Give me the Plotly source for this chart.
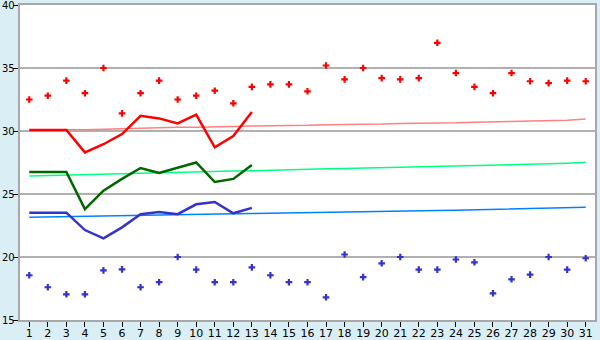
import plotly.graph_objects as go

days = list(range(1, 32))
max_obs = [32.5, 32.8, 34.0, 33.0, 35.0, 31.4, 33.0, 34.0, 32.5, 32.8,
           33.2, 32.2, 33.5, 33.7, 33.7, 33.15, 35.2, 34.1, 35.0, 34.2,
           34.1, 34.2, 37.0, 34.6, 33.5, 33.0, 34.6, 33.95, 33.8, 34.0, 33.95]
min_obs = [18.55, 17.6, 17.04, 17.04, 18.94, 19.02, 17.6, 18.0, 20.0, 19.0,
           18.0, 18.0, 19.18, 18.55, 18.0, 18.0, 16.8, 20.2, 18.4, 19.5,
           20.0, 19.0, 19.0, 19.8, 19.58, 17.12, 18.23, 18.6, 20.0, 19.0, 19.9]
line_days = list(range(1, 14))
max_line = [30.08, 30.08, 30.08, 28.3, 28.95, 29.76, 31.2, 31.0, 30.6, 31.3, 28.7, 29.6, 31.5]
mean_line = [26.75, 26.75, 26.75, 23.8, 25.26, 26.2, 27.06, 26.67, 27.06, 27.5, 25.95, 26.2, 27.3]
min_line = [23.52, 23.52, 23.52, 22.14, 21.48, 22.35, 23.4, 23.57, 23.4, 24.18, 24.37, 23.47, 23.9]
norm_max = [30.05, 30.1, 30.1, 30.1, 30.15, 30.2, 30.2, 30.25, 30.3, 30.3,
            30.3, 30.35, 30.4, 30.4, 30.4, 30.45, 30.5, 30.5, 30.5, 30.55,
            30.6, 30.6, 30.6, 30.65, 30.7, 30.7, 30.75, 30.8, 30.8, 30.85, 30.95]
norm_mean = [26.43, 26.47, 26.5, 26.55, 26.6, 26.62, 26.65, 26.7, 26.72, 26.75,
             26.8, 26.82, 26.85, 26.9, 26.92, 26.95, 27.0, 27.02, 27.05, 27.1,
             27.12, 27.15, 27.2, 27.22, 27.25, 27.3, 27.32, 27.35, 27.4, 27.45, 27.52]
norm_min = [23.15, 23.18, 23.2, 23.22, 23.25, 23.28, 23.3, 23.32, 23.35, 23.38,
            23.4, 23.43, 23.45, 23.48, 23.5, 23.52, 23.55, 23.58, 23.6, 23.62,
            23.65, 23.68, 23.7, 23.72, 23.75, 23.78, 23.8, 23.83, 23.86, 23.9, 23.94]
y_ticks = [15, 20, 25, 30, 35, 40]

fig = go.Figure()
fig.add_trace(go.Scatter(x=days, y=norm_max, mode="lines", line=dict(color="#FF8080", width=1.5)))
fig.add_trace(go.Scatter(x=days, y=norm_mean, mode="lines", line=dict(color="#00FF80", width=1.5)))
fig.add_trace(go.Scatter(x=days, y=norm_min, mode="lines", line=dict(color="#0080FF", width=1.5)))
fig.add_trace(go.Scatter(x=line_days, y=max_line, mode="lines", line=dict(color="#FF0000", width=2.5)))
fig.add_trace(go.Scatter(x=line_days, y=mean_line, mode="lines", line=dict(color="#006600", width=2.5)))
fig.add_trace(go.Scatter(x=line_days, y=min_line, mode="lines", line=dict(color="#3333CC", width=2.5)))
fig.add_trace(go.Scatter(x=days, y=max_obs, mode="markers",
                         marker=dict(symbol="cross", size=5.5, color="#FF0000")))
fig.add_trace(go.Scatter(x=days, y=min_obs, mode="markers",
                         marker=dict(symbol="cross", size=5.5, color="#3333CC")))

plot_w = 600 - 20 - 5
for v in y_ticks:
    fig.add_annotation(x=-5 / plot_w, xref="paper", y=v, yref="y", text=str(v),
                       showarrow=False, xanchor="right", yanchor="middle",
                       borderpad=0, borderwidth=0,
                       font=dict(family="DejaVu Sans", size=10, color="#000000"))

fig.update_layout(
    width=600, height=340,
    margin=dict(l=20, r=5, t=5, b=20),
    paper_bgcolor="#D9EFF5",
    plot_bgcolor="#FFFFFF",
    showlegend=False,
    font=dict(family="DejaVu Sans", size=11, color="#000000"),
)
fig.update_xaxes(range=[0.5, 31.5], tickvals=days, ticktext=[str(d) for d in days],
                 ticks="outside", ticklen=5, tickcolor="#000000", automargin=False,
                 ticklabelstandoff=-3,
                 showgrid=False, zeroline=False,
                 showline=True, linecolor="#A8A8A8", linewidth=2, mirror=True)
fig.update_yaxes(range=[15, 40], tickvals=y_ticks, showticklabels=False,
                 ticks="outside", ticklen=5, tickcolor="#000000", automargin=False,
                 showgrid=True, gridcolor="#B0B0B0", gridwidth=1.5, zeroline=False,
                 showline=True, linecolor="#A8A8A8", linewidth=2, mirror=True)

fig.write_html("out.html")
